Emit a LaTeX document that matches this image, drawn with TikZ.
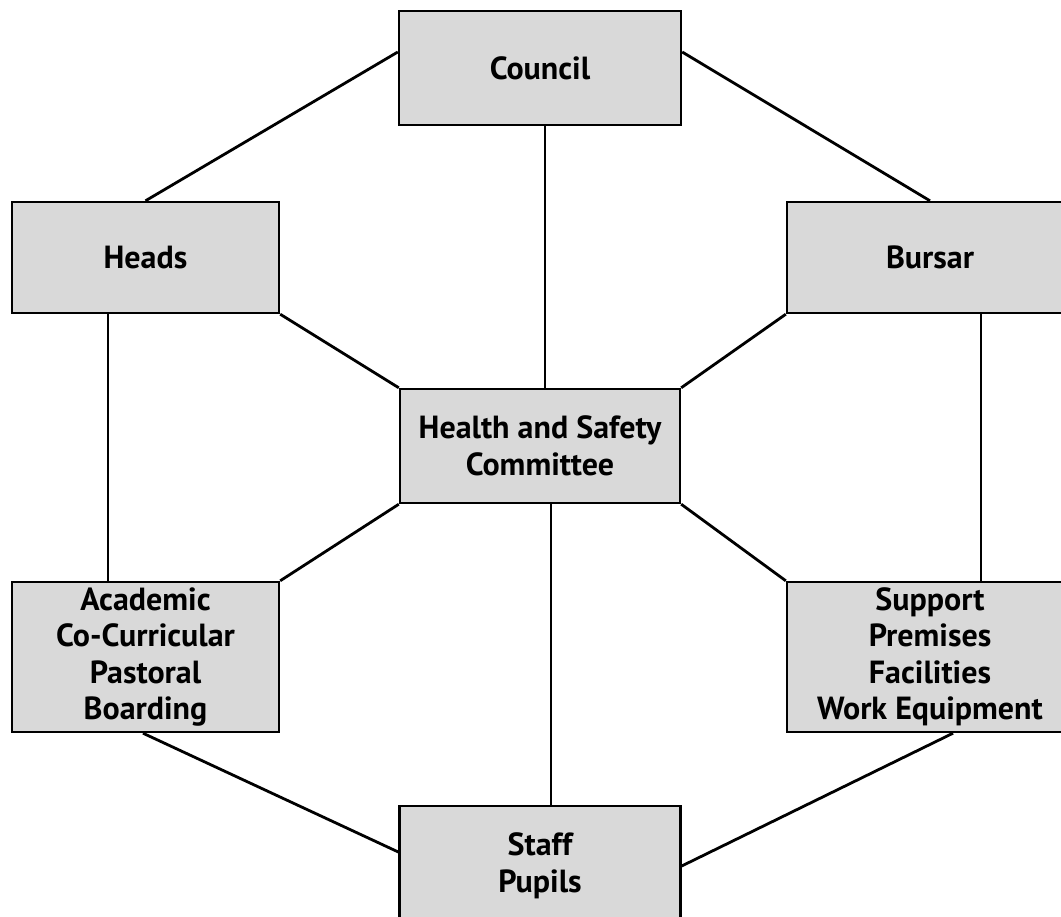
\documentclass[tikz,border=0pt]{standalone}
\usepackage{fontspec}
\setmainfont{PT Sans}
\definecolor{boxgray}{HTML}{D9D9D9}
\begin{document}
\begin{tikzpicture}[x=1pt,y=-1pt,
  unit/.style={draw=black, line width=2.4pt, fill=boxgray, inner sep=0pt, align=center,
    font=\fontsize{32}{36.5}\selectfont\bfseries},
  link/.style={line width=2.8pt, line cap=butt}]
\useasboundingbox (0,0) rectangle (1061,917);
\clip (0,0) rectangle (1061,917);
\node[unit, minimum width=282pt, minimum height=114pt] (council) at (540,68) {Council};
\node[unit, minimum width=267pt, minimum height=111pt] (heads) at (145.5,257.5) {Heads};
\node[unit, minimum width=286pt, minimum height=111pt] (bursar) at (930,257.5) {Bursar};
\node[unit, minimum width=280pt, minimum height=114pt] (hsc) at (540,446) {Health and Safety\\Committee};
\node[unit, minimum width=267pt, minimum height=150pt] (acad) at (145.5,657) {Academic\\Co-Curricular\\Pastoral\\Boarding};
\node[unit, minimum width=286pt, minimum height=150pt] (supp) at (930,657) {Support\\Premises\\Facilities\\Work Equipment};
\node[unit, minimum width=281pt, minimum height=120pt] (staff) at (540,866) {Staff\\Pupils};
\draw[link] ([yshift=16pt]council.west) -- (heads.north);
\draw[link] ([yshift=16pt]council.east) -- (bursar.north);
\draw[link] ([xshift=5pt]council.south) -- ([xshift=5pt]hsc.north);
\draw[link] (heads.south east) -- (hsc.north west);
\draw[link] (bursar.south west) -- (hsc.north east);
\draw[link] ([xshift=-37.5pt]heads.south) -- ([xshift=-37.5pt]acad.north);
\draw[link] ([xshift=51pt]bursar.south) -- ([xshift=51pt]supp.north);
\draw[link] (hsc.south west) -- (acad.north east);
\draw[link] (hsc.south east) -- (supp.north west);
\draw[link] ([xshift=11pt]hsc.south) -- ([xshift=11pt]staff.north);
\draw[link] ([xshift=-2.5pt]acad.south) -- ([yshift=14pt]staff.west);
\draw[link] ([xshift=23pt]supp.south) -- (staff.east);
\end{tikzpicture}
\end{document}
